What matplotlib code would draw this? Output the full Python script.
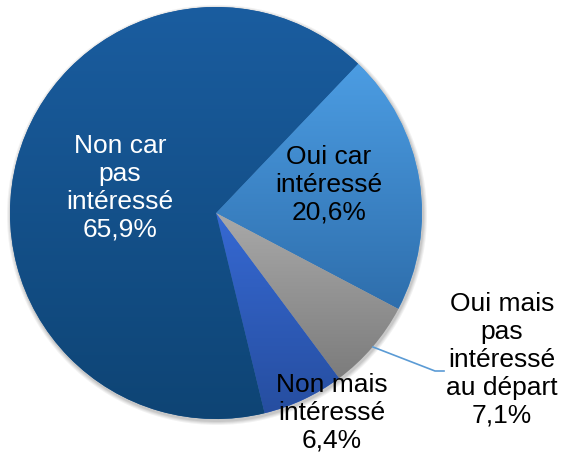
import numpy as np
import matplotlib.pyplot as plt
import matplotlib.colors as mcolors
from matplotlib.patches import Circle

plt.rcParams["font.family"] = ["Liberation Sans", "DejaVu Sans"]

labels = ["Oui car\nintéressé", "Oui mais\npas\nintéressé\nau départ",
          "Non mais\nintéressé", "Non car\npas\nintéressé"]
values = [20.6, 7.1, 6.4, 65.9]

# top / bottom colours of each slice gradient
top_colors = ["#4C9DE3", "#A9A9A9", "#3669D3", "#1A5DA0"]
bottom_colors = ["#2E6EAC", "#7C7C7C", "#264EA0", "#0E4474"]
text_colors = ["black", "black", "black", "white"]

W, H = 563, 459
fig = plt.figure(figsize=(W / 100, H / 100), dpi=100)
ax = fig.add_axes([0, 0, 1, 1])
ax.set_aspect("equal")

cx, cy, r = 216, H - 213, 206

# soft shadow
for i, a in enumerate([0.05, 0.05, 0.06, 0.07]):
    ax.add_patch(Circle((cx + 1, cy - 2), r + 4 - i, color="black",
                        alpha=a, lw=0, zorder=0))

wedges, _ = ax.pie(values, radius=r, center=(cx, cy), startangle=46.4,
                   counterclock=False, frame=True,
                   wedgeprops=dict(linewidth=0))
ax.set_xlim(0, W)
ax.set_ylim(0, H)
ax.set_axis_off()

for w, c1, c2 in zip(wedges, top_colors, bottom_colors):
    w.set_facecolor(c1)
    verts = w.get_path().vertices
    x0, y0 = verts.min(axis=0)
    x1, y1 = verts.max(axis=0)
    cmap = mcolors.LinearSegmentedColormap.from_list("g", [c2, c1])
    grad = np.linspace(0, 1, 256).reshape(-1, 1)
    im = ax.imshow(grad, cmap=cmap, origin="lower", aspect="auto",
                   extent=(x0, x1, y0, y1), zorder=2)
    im.set_clip_path(w)

# labels
pos = [(329, 185), (502, 360), (332, 413), (120, 188)]
for (x, y), lab, v, col in zip(pos, labels, values, text_colors):
    ax.text(x, H - y, f"{lab}\n{v:.1f}%".replace(".", ","), ha="center",
            va="center", fontsize=19, color=col, zorder=5)

# leader line for the grey slice
ax.plot([373, 435, 444], [H - 347, H - 371, H - 371], color="#5B9BD5",
        lw=1.2, zorder=4)

fig.savefig("out.png", dpi=100)
